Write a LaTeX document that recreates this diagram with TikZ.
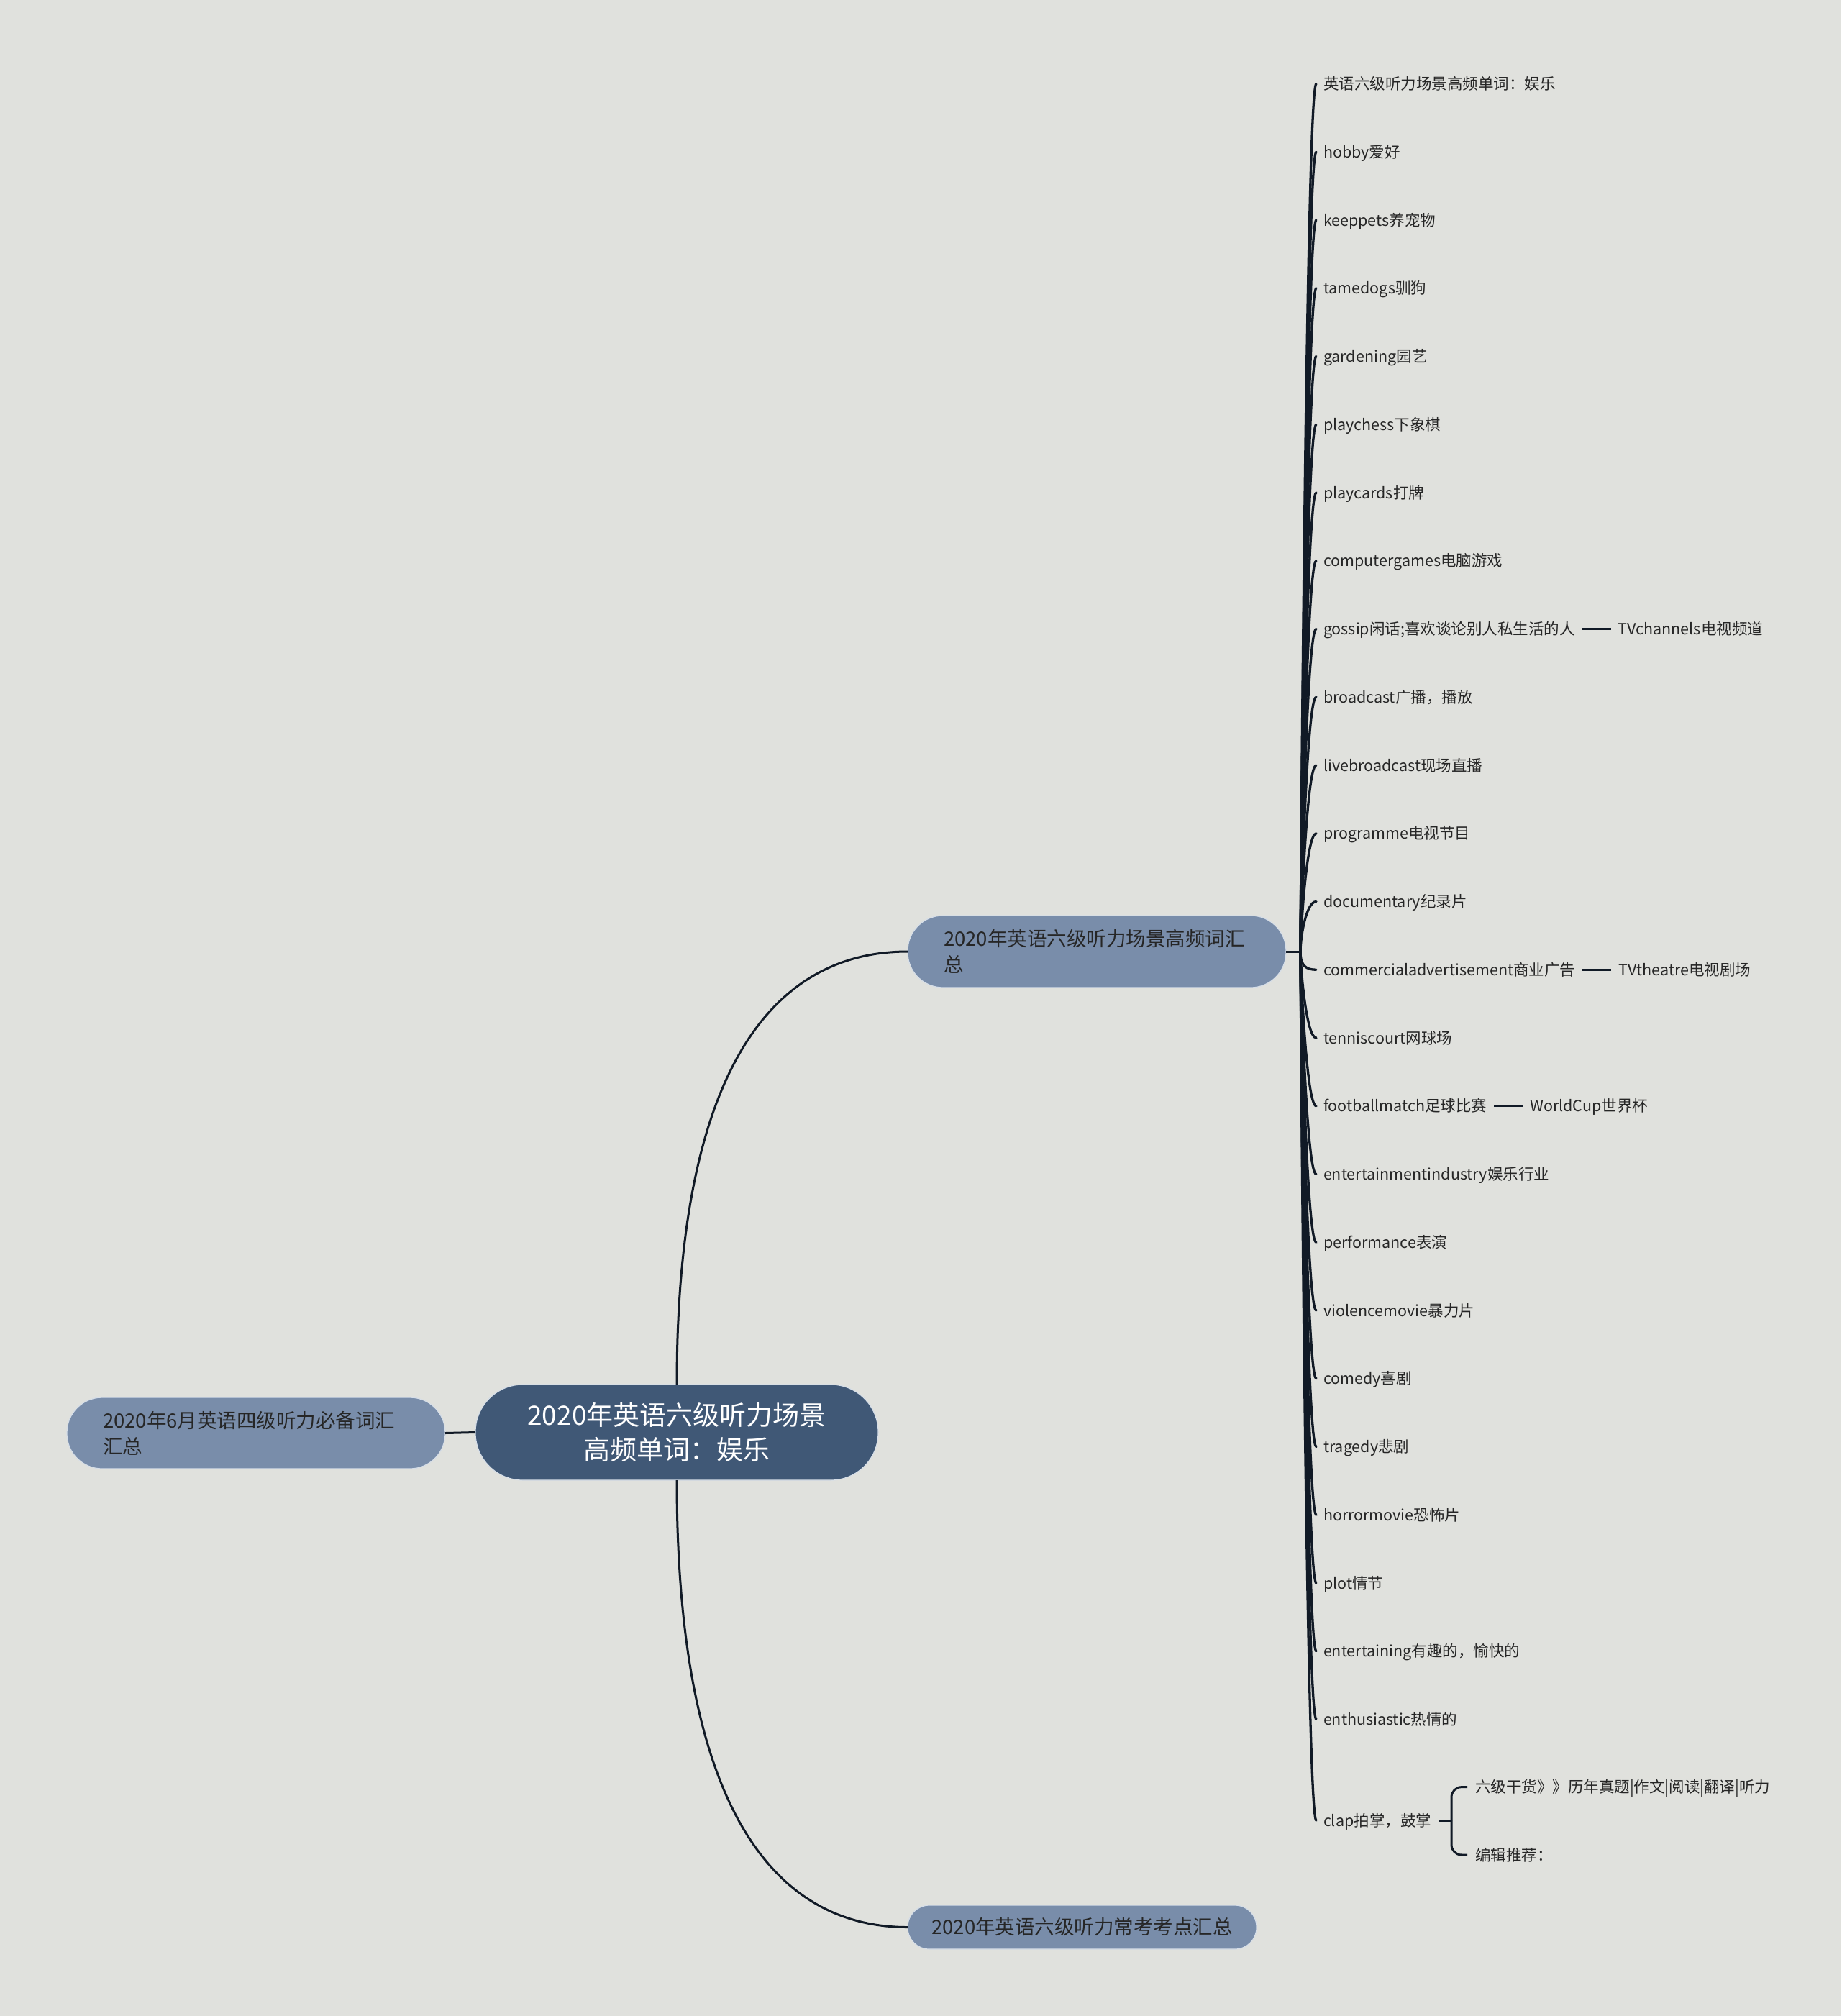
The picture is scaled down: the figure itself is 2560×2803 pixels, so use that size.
\documentclass[tikz,border=0pt]{standalone}
\usepackage{fontspec}
\setmainfont{Noto Sans CJK SC}
\usetikzlibrary{calc}
\definecolor{bgcol}{HTML}{E0E1DD}
\definecolor{rootfill}{HTML}{405876}
\definecolor{branchfill}{HTML}{798DAA}
\definecolor{edgecol}{HTML}{D6DEE8}
\definecolor{linecol}{HTML}{111A26}
\definecolor{txt}{HTML}{262626}
\newcommand\leaffont{\fontsize{21.5}{26}\selectfont}
\newcommand\branchfont{\fontsize{27.5}{36}\selectfont}
\newcommand\rootfont{\fontsize{37}{48}\selectfont}
\begin{document}
\begin{tikzpicture}[x=1pt,y=-1pt,
  rootnode/.style={rectangle, rounded corners=66pt, fill=rootfill, draw=edgecol, line width=1.2pt,
    minimum width=560pt, minimum height=133pt, inner sep=0pt, outer sep=0pt, align=center,
    text=white, font=\rootfont},
  branchnode/.style={rectangle, fill=branchfill, draw=edgecol, line width=1.2pt,
    inner sep=0pt, outer sep=0pt, text=txt, font=\branchfont},
  leaf/.style={anchor=west, inner xsep=10pt, inner ysep=0pt, outer sep=0pt,
    text height=18pt, text depth=2pt, text=txt, font=\leaffont},
  link/.style={draw=linecol, line width=3pt},
  leafline/.style={draw=linecol, line width=3.3pt, line cap=round},
]
% background / bounding box
\fill[bgcol] (0,0) rectangle (2560,2803);
\useasboundingbox (0,0) rectangle (2560,2803);

% main nodes
\node[rootnode] (root) at (941,1991.5) {2020年英语六级听力场景\\高频单词：娱乐};
\node[branchnode, rounded corners=49pt, minimum width=526pt, minimum height=99pt,
  text width=426pt, align=left] (left) at (356,1992.5) {2020年6月英语四级听力必备词汇\\汇总};
\node[branchnode, rounded corners=49pt, minimum width=526pt, minimum height=100pt,
  text width=426pt, align=left] (b1) at (1525,1323) {2020年英语六级听力场景高频词汇\\总};
\node[branchnode, rounded corners=30pt, minimum width=485pt, minimum height=61pt,
  align=center] (b2) at (1504.5,2679.5) {2020年英语六级听力常考考点汇总};

% main connectors
\draw[link] (left.east) -- (root.west);
\draw[link] (root.north) .. controls ($(root.north)+(0,-482)$) and ($(b1.west)+(-160,0)$) .. (b1.west);
\draw[link] (root.south) .. controls ($(root.south)+(0,498)$) and ($(b2.west)+(-160,0)$) .. (b2.west);

% leaves of b1
\coordinate (j1) at (1808,1323);
\draw[link] (b1.east) -- (j1);

\node[leaf] (l0) at (1830,116.5) {英语六级听力场景高频单词：娱乐};
\node[leaf] (l1) at (1830,211.25) {hobby爱好};
\node[leaf] (l2) at (1830,306) {keeppets养宠物};
\node[leaf] (l3) at (1830,400.75) {tamedogs驯狗};
\node[leaf] (l4) at (1830,495.5) {gardening园艺};
\node[leaf] (l5) at (1830,590.25) {playchess下象棋};
\node[leaf] (l6) at (1830,685) {playcards打牌};
\node[leaf] (l7) at (1830,779.75) {computergames电脑游戏};
\node[leaf] (l8) at (1830,874.5) {gossip闲话;喜欢谈论别人私生活的人};
\node[leaf] (l9) at (1830,969.25) {broadcast广播，播放};
\node[leaf] (l10) at (1830,1064) {livebroadcast现场直播};
\node[leaf] (l11) at (1830,1158.75) {programme电视节目};
\node[leaf] (l12) at (1830,1253.5) {documentary纪录片};
\node[leaf] (l13) at (1830,1348.25) {commercialadvertisement商业广告};
\node[leaf] (l14) at (1830,1443) {tenniscourt网球场};
\node[leaf] (l15) at (1830,1537.75) {footballmatch足球比赛};
\node[leaf] (l16) at (1830,1632.5) {entertainmentindustry娱乐行业};
\node[leaf] (l17) at (1830,1727.25) {performance表演};
\node[leaf] (l18) at (1830,1822) {violencemovie暴力片};
\node[leaf] (l19) at (1830,1916.75) {comedy喜剧};
\node[leaf] (l20) at (1830,2011.5) {tragedy悲剧};
\node[leaf] (l21) at (1830,2106.25) {horrormovie恐怖片};
\node[leaf] (l22) at (1830,2201) {plot情节};
\node[leaf] (l23) at (1830,2295.75) {entertaining有趣的，愉快的};
\node[leaf] (l24) at (1830,2390.5) {enthusiastic热情的};
\node[leaf] (lc) at (1830,2531) {clap拍掌，鼓掌};

\foreach \i in {0,...,12} {
  \draw[leafline] (j1) .. controls ($(j1)+(0,-20)$) and ($(l\i.west)+(-14,0)$) .. (l\i.west);}
\foreach \i in {13,...,24} {
  \draw[leafline] (j1) .. controls ($(j1)+(0,20)$) and ($(l\i.west)+(-14,0)$) .. (l\i.west);}
\draw[leafline] (j1) .. controls ($(j1)+(0,20)$) and ($(lc.west)+(-14,0)$) .. (lc.west);

% second-level leaves
\node[leaf] (tvch) at ($(l8.east)+(40,0)$) {TVchannels电视频道};
\node[leaf] (tvth) at ($(l13.east)+(40,0)$) {TVtheatre电视剧场};
\node[leaf] (wcup) at ($(l15.east)+(40,0)$) {WorldCup世界杯};
\draw[link, line width=3.2pt] (l8.east) -- (tvch.west);
\draw[link, line width=3.2pt] (l13.east) -- (tvth.west);
\draw[link, line width=3.2pt] (l15.east) -- (wcup.west);

% clap children with bracket
\coordinate (cj) at ($(lc.east)+(18,0)$);
\node[leaf, inner xsep=11pt] (k1) at ($(cj)+(22,-46.4)$) {六级干货》》历年真题|作文|阅读|翻译|听力};
\node[leaf, inner xsep=11pt] (k2) at ($(cj)+(22,48)$) {编辑推荐：};
\draw[link] (lc.east) -- (cj);
\draw[link, rounded corners=14pt] (cj) |- (k1.west);
\draw[link, rounded corners=14pt] (cj) |- (k2.west);
\end{tikzpicture}
\end{document}
